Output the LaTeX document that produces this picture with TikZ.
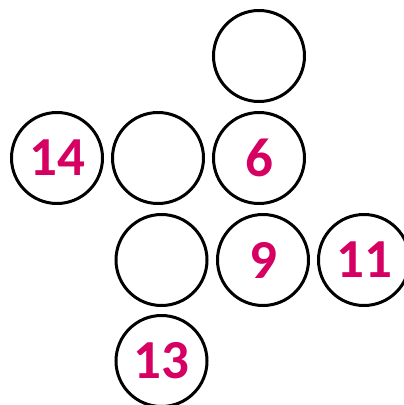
\documentclass[tikz,border=0pt]{standalone}
\usepackage{fontspec}
\setmainfont{Carlito}
\definecolor{numred}{HTML}{D60062}
\begin{document}
\begin{tikzpicture}[x=1pt,y=-1pt,
  ball/.style={circle,draw=black,line width=3pt,minimum size=91pt,inner sep=0pt,
    font=\fontsize{55}{55}\selectfont\bfseries,text=numred}]
\useasboundingbox (0,0) rectangle (404,405);
\node[ball] (t) at (259,56) {};
\node[ball] (a) at (57,158) {14};
\node[ball] (b) at (158,158) {};
\node[ball] (c) at (259,158) {6};
\node[ball] (d) at (161.5,260) {};
\node[ball] (e) at (263,260) {9};
\node[ball] (f) at (364,260) {11};
\node[ball] (g) at (161.5,361) {13};
\end{tikzpicture}
\end{document}
